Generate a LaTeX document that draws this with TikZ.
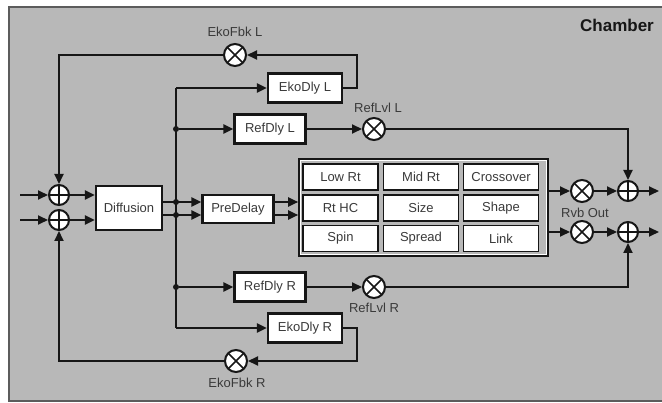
\documentclass[tikz,border=0pt]{standalone}
\usepackage{fontspec}
\setmainfont{Liberation Sans}
\usetikzlibrary{arrows.meta,positioning,calc}
\definecolor{Ink}{HTML}{161616}
\definecolor{Label}{HTML}{3A3A3A}
\definecolor{Panel}{HTML}{B8B8B8}

\tikzset{
  wire/.style={draw=Ink,line width=2pt},
  flow/.style={wire,-{Triangle[length=10pt,width=9pt]}},
  block/.style={draw=Ink,line width=2.2pt,fill=white,inner sep=0pt,font=\fontsize{13}{15}\selectfont,text=Label},
  cell/.style={block,line width=1.6pt,minimum width=75pt,minimum height=26pt},
  junc/.style={circle,draw=Ink,line width=2pt,fill=white,minimum size=22pt,inner sep=0pt},
  mult/.style={junc,path picture={\draw[Ink,line width=1.6pt]
      (path picture bounding box.south west) -- (path picture bounding box.north east)
      (path picture bounding box.north west) -- (path picture bounding box.south east);}},
  sum/.style={junc,minimum size=20pt,path picture={\draw[Ink,line width=1.6pt]
      (path picture bounding box.north) -- (path picture bounding box.south)
      (path picture bounding box.west) -- (path picture bounding box.east);}},
  dot/.style={circle,fill=Ink,inner sep=0pt,minimum size=6pt},
  tag/.style={font=\fontsize{13}{15}\selectfont,text=Label}
}

\begin{document}
\begin{tikzpicture}[x=1pt,y=-1pt]
\useasboundingbox (0,0) rectangle (662,403);
\draw[Ink!70,line width=1.2pt,fill=Panel] (9,7) rectangle (664,401);
\node[font=\fontsize{17}{19}\selectfont\bfseries,text=Ink] (title) at (617,25) {Chamber};

% input summers and diffusion
\coordinate (inL) at (20,195);
\coordinate (inR) at (20,220);
\node[sum] (addL) at (59,195) {};
\node[sum] (addR) at (59,220) {};
\node[block,minimum width=66pt,minimum height=44pt] (diff) at (129,208) {Diffusion};
\node[block,minimum width=71pt,minimum height=28pt] (pre) at (238,209) {PreDelay};

% taps
\node[dot] (dL) at (176,202) {};
\node[dot] (dR) at (176,215) {};
\node[dot] (dU) at (176,129) {};
\node[dot] (dD) at (176,287) {};
\coordinate (topT) at (176,88);
\coordinate (botT) at (176,328);

\node[block,minimum width=74pt,minimum height=29pt] (ekoL) at (305,88) {EkoDly L};
\node[block,minimum width=71pt,minimum height=29pt] (refL) at (270,129) {RefDly L};
\node[block,minimum width=71pt,minimum height=29pt] (refR) at (270,287) {RefDly R};
\node[block,minimum width=74pt,minimum height=29pt] (ekoR) at (305,328) {EkoDly R};
\coordinate (ekoLturn) at (357,55);
\coordinate (ekoRturn) at (357,361);

\node[mult] (fbkL) at (235,55) {};
\node[mult] (fbkR) at (236,361) {};
\node[mult] (lvlL) at (374,129) {};
\node[mult] (lvlR) at (374,287) {};
\node[tag] (fbkLtag) at (235,32) {EkoFbk L};
\node[tag] (fbkRtag) at (237,383) {EkoFbk R};
\node[tag] (lvlLtag) at (378,108) {RefLvl L};
\node[tag] (lvlRtag) at (374,308) {RefLvl R};

% reverb grid
\node[draw=Ink,line width=1.6pt,fill=Panel,minimum width=249pt,minimum height=97pt,inner sep=0pt] (grid) at (423.5,207.5) {};
\draw[white,line width=1pt] ($(grid.north west)+(2.5,2.5)$) rectangle ($(grid.south east)+(-2.5,-2.5)$);
\node[cell] (lowrt) at (340.5,177) {Low Rt};
\node[cell] (midrt) at (421,177) {Mid Rt};
\node[cell] (xover) at (501,177) {Crossover};
\node[cell] (rthc) at (340.5,208) {Rt HC};
\node[cell] (size) at (421,208) {Size};
\node[cell] (shape) at (501,208) {Shape};
\node[cell] (spin) at (340.5,238.5) {Spin};
\node[cell] (spread) at (421,238.5) {Spread};
\node[cell] (link) at (501,238.5) {Link};

% output stage
\node[mult] (outL) at (582,191) {};
\node[mult] (outR) at (582,232) {};
\node[sum] (mixL) at (628,191) {};
\node[sum] (mixR) at (628,232) {};
\coordinate (endL) at (659,191);
\coordinate (endR) at (659,232);
\node[tag] (rvbtag) at (585,213) {Rvb Out};

% connectors
\draw[flow] (inL) -- (addL);
\draw[flow] (inR) -- (addR);
\draw[flow] (addL) -- (diff.west |- addL);
\draw[flow] (addR) -- (diff.west |- addR);
\draw[flow] (diff.east |- dL) -- (pre.west |- dL);
\draw[flow] (diff.east |- dR) -- (pre.west |- dR);
\draw[flow] (pre.east |- dL) -- (grid.west |- dL);
\draw[flow] (pre.east |- dR) -- (grid.west |- dR);
\draw[wire] (topT) -- (botT);
\draw[flow] (topT) -- (ekoL);
\draw[flow] (botT) -- (ekoR);
\draw[flow] (dU) -- (refL);
\draw[flow] (dD) -- (refR);
\draw[flow] (refL) -- (lvlL);
\draw[flow] (refR) -- (lvlR);
\draw[flow] (lvlL) -| (mixL);
\draw[flow] (lvlR) -| (mixR);
\draw[flow] (ekoL.east) -| (ekoLturn) -- (fbkL);
\draw[flow] (ekoR.east) -| (ekoRturn) -- (fbkR);
\draw[flow] (fbkL) -| (addL);
\draw[flow] (fbkR) -| (addR);
\draw[flow] (grid.east |- outL) -- (outL);
\draw[flow] (grid.east |- outR) -- (outR);
\draw[flow] (outL) -- (mixL);
\draw[flow] (outR) -- (mixR);
\draw[flow] (mixL) -- (endL);
\draw[flow] (mixR) -- (endR);
\end{tikzpicture}
\end{document}
